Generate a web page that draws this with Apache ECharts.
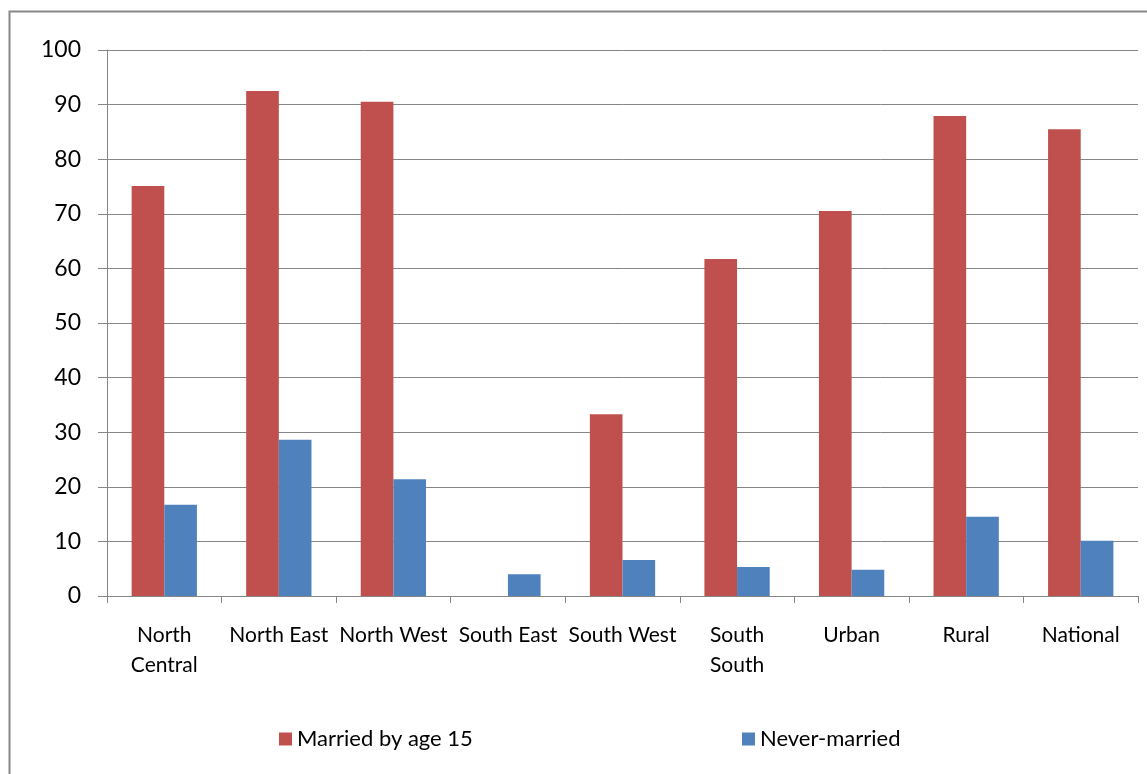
<!DOCTYPE html>
<html><head><meta charset="utf-8">
<script src="https://cdn.jsdelivr.net/npm/echarts@6/dist/echarts.min.js"></script>
<style>html,body{margin:0;padding:0;background:#fff}#c{width:1147px;height:774px}</style>
</head><body><div id="c"></div>
<script>
const categories = ["North\nCentral", "North East", "North West", "South East", "South West", "South\nSouth", "Urban", "Rural", "National"];
const marriedBy15 = [75.1, 92.5, 90.5, 0, 33.3, 61.7, 70.5, 87.9, 85.5];
const neverMarried = [16.7, 28.6, 21.4, 4.0, 6.6, 5.3, 4.8, 14.5, 10.1];
const yTicks = { min: 0, max: 100, interval: 10 };
const seriesNames = ["Married by age 15", "Never-married"];

const font = "Lato, 'Open Sans', sans-serif";
const chart = echarts.init(document.getElementById('c'), null, { renderer: 'canvas' });
chart.setOption({
  animation: false,
  backgroundColor: '#fff',
  graphic: [{ type: 'rect', shape: { x: 9.5, y: 11.5, width: 1200, height: 800 }, style: { fill: 'none', stroke: '#888', lineWidth: 2 }, silent: true }],
  grid: { left: 107, right: 9, top: 50, bottom: 178, containLabel: false },
  legend: [
    { data: [seriesNames[0]], left: 279, top: 728, padding: 0, itemWidth: 13, itemHeight: 13, textStyle: { fontFamily: font, fontSize: 22, color: '#000' }, icon: 'rect' },
    { data: [seriesNames[1]], left: 742, top: 728, padding: 0, itemWidth: 13, itemHeight: 13, textStyle: { fontFamily: font, fontSize: 22, color: '#000' }, icon: 'rect' }
  ],
  xAxis: {
    type: 'category', data: categories,
    axisLine: { lineStyle: { color: '#868686', width: 1 } },
    axisTick: { show: true, length: 7, lineStyle: { color: '#868686' } },
    axisLabel: { interval: 0, margin: 24, fontFamily: font, fontSize: 21, color: '#000', lineHeight: 30 }
  },
  yAxis: {
    type: 'value', min: yTicks.min, max: yTicks.max, interval: yTicks.interval,
    axisLine: { show: true, lineStyle: { color: '#868686', width: 1 } },
    axisTick: { show: true, length: 9, lineStyle: { color: '#868686' } },
    axisLabel: { margin: 26, fontFamily: font, fontSize: 23, color: '#000' },
    splitLine: { show: true, lineStyle: { color: '#868686', width: 1 } }
  },
  series: [
    { name: seriesNames[0], type: 'bar', data: marriedBy15, itemStyle: { color: '#C0504D' }, barGap: '0%', barCategoryGap: '43%' },
    { name: seriesNames[1], type: 'bar', data: neverMarried, itemStyle: { color: '#4F81BD' }, barGap: '0%', barCategoryGap: '43%' }
  ]
});
</script></body></html>
